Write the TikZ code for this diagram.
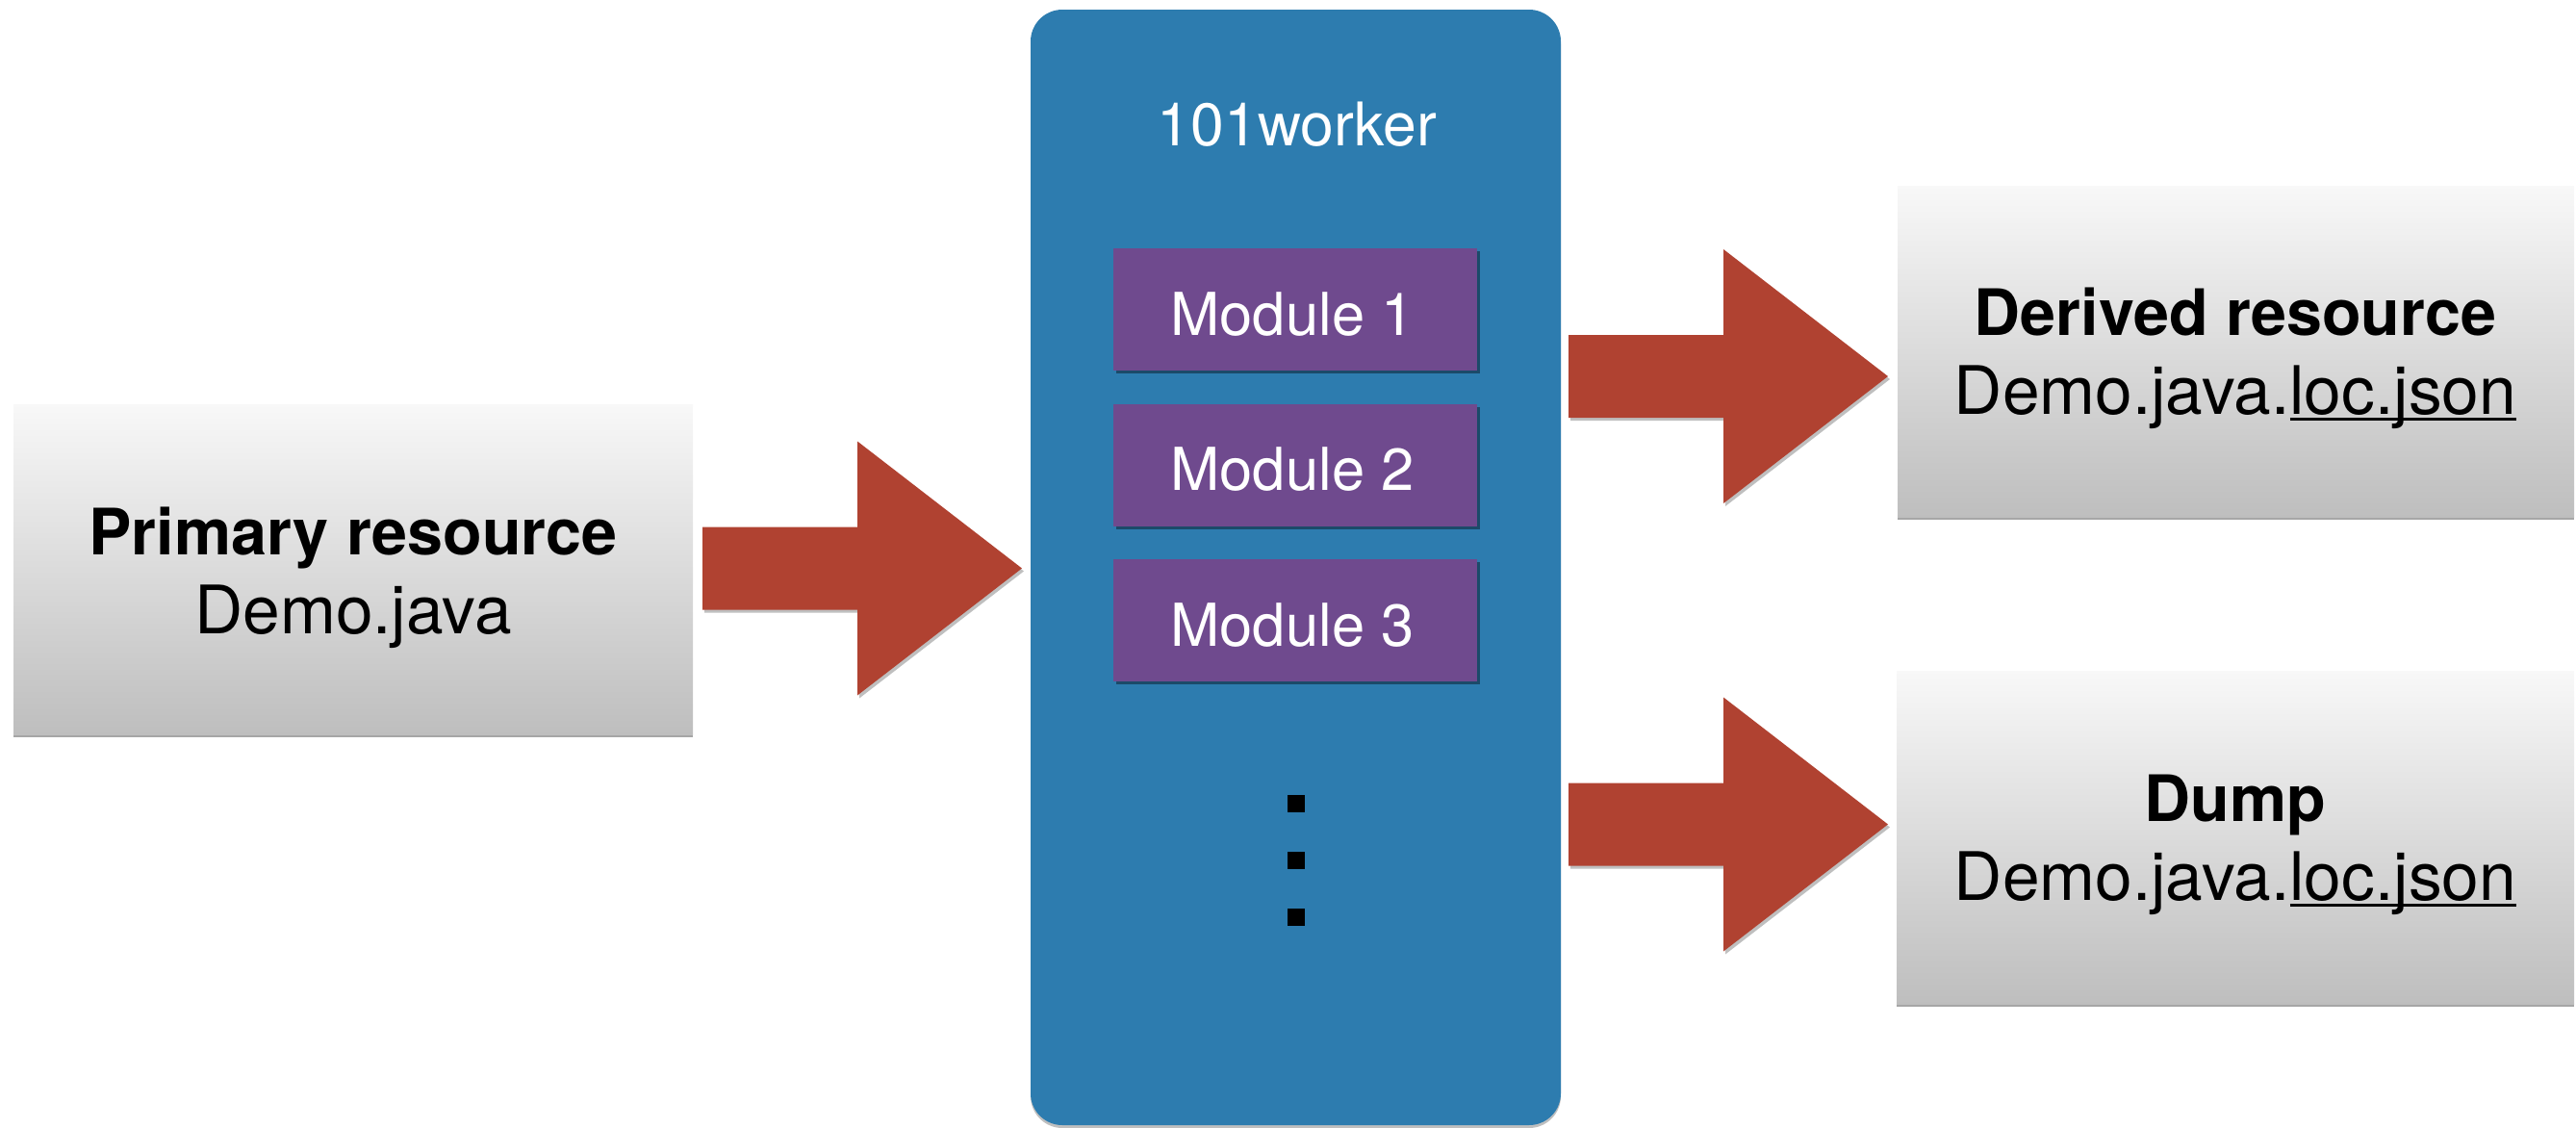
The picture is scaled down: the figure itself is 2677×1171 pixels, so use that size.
\documentclass[tikz,border=0pt]{standalone}
\usepackage{fontspec}
\setmainfont{TeX Gyre Heros}
\usetikzlibrary{shadows}
\definecolor{workerblue}{HTML}{2D7CAF}
\definecolor{modpurple}{HTML}{6F4A8E}
\definecolor{arrowred}{HTML}{B04231}
\definecolor{boxtop}{HTML}{F8F8F8}
\definecolor{boxbot}{HTML}{BEBEBE}
\newcommand\ulined[1]{\setbox0\hbox{#1}\rlap{\rule[-7pt]{\wd0}{3pt}}\box0}
\begin{document}
\begin{tikzpicture}[x={(1pt,0pt)}, y={(0pt,-1pt)},
  resbox/.style={rectangle, inner sep=0pt, outer sep=0pt, top color=boxtop, bottom color=boxbot,
    drop shadow={shadow xshift=0pt, shadow yshift=-3pt, opacity=0.35, fill=black}},
  workerbox/.style={rectangle, rounded corners=33pt, inner sep=0pt, fill=workerblue,
    drop shadow={shadow xshift=0pt, shadow yshift=-3pt, opacity=0.25, fill=black}},
  modbox/.style={rectangle, inner sep=0pt, fill=modpurple, minimum width=378pt, minimum height=127pt,
    drop shadow={shadow xshift=3pt, shadow yshift=-3pt, opacity=0.4, fill=black}},
  boldtxt/.style={anchor=base, inner sep=0pt, font=\fontsize{66.5}{80}\selectfont\bfseries},
  lighttxt/.style={anchor=base, inner sep=0pt, font=\fontsize{69.5}{84}\selectfont},
  whitetxt/.style={anchor=base, inner sep=0pt, text=white},
  dotsq/.style={rectangle, fill=black, inner sep=0pt, minimum size=18pt},
  blockarrow/.pic={
    \fill[arrowred, drop shadow={shadow xshift=2pt, shadow yshift=-3pt, opacity=0.25, fill=black}]
      (0,-43) -- (161,-43) -- (161,-132) -- (332,0) -- (161,132) -- (161,43) -- (0,43) -- cycle;
  }
]
\useasboundingbox (0,0) rectangle (2677,1171);

% worker container
\node[workerbox, minimum width=551pt, minimum height=1159pt] (worker) at (1346.5,589.5) {};
\node[whitetxt, font=\fontsize{62.5}{74}\selectfont] (wlabel) at (1348,151) {101worker};

% modules
\node[modbox] (m1) at (1346,321.5) {};
\node[modbox] (m2) at (1346,483) {};
\node[modbox] (m3) at (1346,644.5) {};
\node[whitetxt, font=\fontsize{61.5}{72}\selectfont] (m1t) at (1343,348) {Module 1};
\node[whitetxt, font=\fontsize{61.5}{72}\selectfont] (m2t) at (1343,509.5) {Module 2};
\node[whitetxt, font=\fontsize{61.5}{72}\selectfont] (m3t) at (1343,671) {Module 3};

% dots
\node[dotsq] (d1) at (1347,835) {};
\node[dotsq] (d2) at (1347,894) {};
\node[dotsq] (d3) at (1347,953) {};

% resource boxes
\node[resbox, minimum width=706pt, minimum height=343pt] (prim) at (367,591.5) {};
\node[boldtxt] (primt1) at (367,576) {Primary resource};
\node[lighttxt] (primt2) at (367,658) {Demo.java};

\node[resbox, minimum width=703pt, minimum height=344pt] (deriv) at (2323.5,365) {};
\node[boldtxt] (derivt1) at (2323,348) {Derived resource};
\node[lighttxt] (derivt2) at (2323,430) {Demo.java.\ulined{loc.json}};

\node[resbox, minimum width=704pt, minimum height=346pt] (dump) at (2323,870) {};
\node[boldtxt] (dumpt1) at (2323,853) {Dump};
\node[lighttxt] (dumpt2) at (2323,935) {Demo.java.\ulined{loc.json}};

% block arrows
\pic (arrA) at (730,590.5) {blockarrow};
\pic (arrB) at (1630,391) {blockarrow};
\pic (arrC) at (1630,856.5) {blockarrow};
\end{tikzpicture}
\end{document}
